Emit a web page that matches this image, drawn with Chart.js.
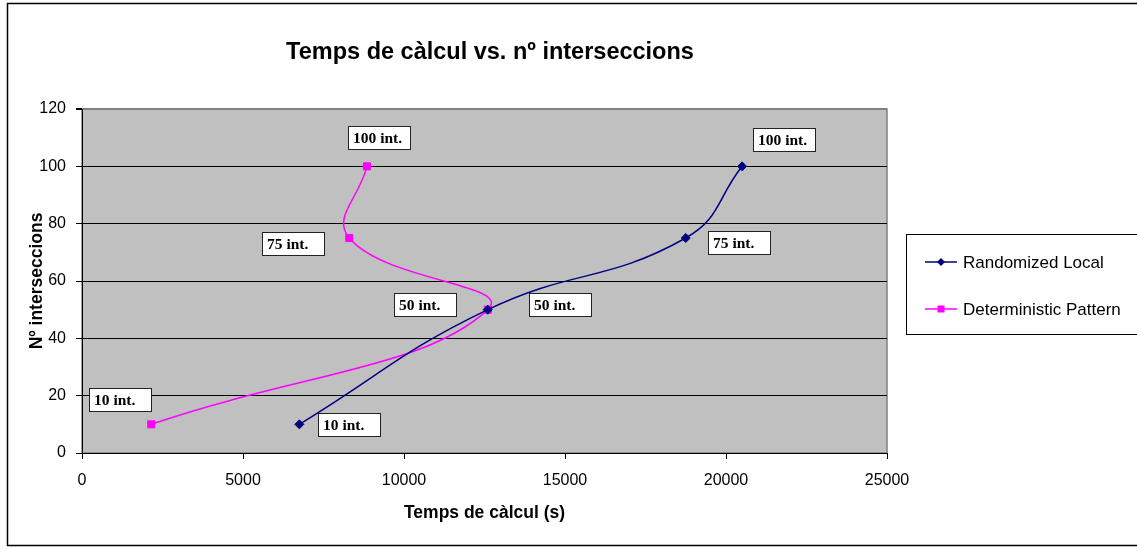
<!DOCTYPE html>
<html>
<head>
<meta charset="utf-8">
<script src="https://cdn.jsdelivr.net/npm/chart.js@4/dist/chart.umd.min.js"></script>
<style>
html,body{margin:0;padding:0;background:#fff;}
#wrap{width:1137px;height:549px;position:relative;}
</style>
</head>
<body>
<div id="wrap"><canvas id="c" width="1137" height="549"></canvas></div>
<script>
const chartTitle = 'Temps de càlcul vs. nº interseccions';
const xAxisTitle = 'Temps de càlcul (s)';
const yAxisTitle = 'Nº interseccions';
const intersections = [10, 50, 75, 100];
const randomizedTime = [6750, 12600, 18750, 20500];
const deterministicTime = [2150, 12600, 8300, 8850];
const pointLabels = ['10 int.', '50 int.', '75 int.', '100 int.'];
const seriesNames = ['Randomized Local', 'Deterministic Pattern'];

const SANS = '"Liberation Sans", Arial, sans-serif';
const SERIF = '"Liberation Serif", "Times New Roman", serif';

const toPoints = (xs) => xs.map((x, i) => ({x: x, y: intersections[i]}));

const frame = {
  id: 'frame',
  beforeDraw(chart) {
    const {ctx, chartArea: a} = chart;
    ctx.save();
    ctx.fillStyle = '#fff';
    ctx.fillRect(0, 0, chart.width, chart.height);
    ctx.fillStyle = '#C0C0C0';
    ctx.fillRect(a.left, a.top, a.right - a.left, a.bottom - a.top);
    ctx.strokeStyle = '#808080';
    ctx.lineWidth = 1.5;
    ctx.strokeRect(a.left, a.top, a.right - a.left, a.bottom - a.top);
    ctx.restore();
  },
  afterDraw(chart) {
    const {ctx, chartArea: a} = chart;
    ctx.save();
    // outer border
    ctx.strokeStyle = '#000';
    ctx.lineWidth = 1.5;
    ctx.beginPath();
    ctx.moveTo(1140, 3.5); ctx.lineTo(7.5, 3.5); ctx.lineTo(7.5, 545.5); ctx.lineTo(1140, 545.5);
    ctx.stroke();
    // title
    ctx.fillStyle = '#000';
    ctx.textAlign = 'center';
    ctx.textBaseline = 'alphabetic';
    ctx.font = 'bold 23.5px ' + SANS;
    ctx.fillText(chartTitle, 490, 59);
    ctx.font = 'bold 17.5px ' + SANS;
    ctx.fillText(xAxisTitle, (a.left + a.right) / 2, 518);
    ctx.save();
    ctx.translate(42, (a.top + a.bottom) / 2);
    ctx.rotate(-Math.PI / 2);
    ctx.fillText(yAxisTitle, 0, 0);
    ctx.restore();
    // legend
    ctx.fillStyle = '#fff';
    ctx.fillRect(906.5, 234.5, 240, 100);
    ctx.strokeStyle = '#000';
    ctx.lineWidth = 1;
    ctx.strokeRect(906.5, 234.5, 240, 100);
    const rows = [262, 309];
    chart.data.datasets.forEach((ds, i) => {
      const y = rows[i];
      ctx.strokeStyle = ds.borderColor;
      ctx.lineWidth = 1.5;
      ctx.beginPath(); ctx.moveTo(925, y); ctx.lineTo(957, y); ctx.stroke();
      ctx.fillStyle = ds.pointBackgroundColor;
      ctx.beginPath();
      if (ds.pointStyle === 'rect') {
        ctx.rect(941 - 3.5, y - 3.5, 7, 7);
      } else {
        ctx.moveTo(941, y - 4); ctx.lineTo(945, y); ctx.lineTo(941, y + 4); ctx.lineTo(937, y);
        ctx.closePath();
      }
      ctx.fill();
      ctx.fillStyle = '#000';
      ctx.textAlign = 'left';
      ctx.textBaseline = 'middle';
      ctx.font = '17px ' + SANS;
      ctx.fillText(ds.label, 963, y + 1);
    });
    ctx.restore();
  },
  afterDatasetsDraw(chart) {
    const {ctx} = chart;
    ctx.save();
    chart.data.datasets.forEach((ds, di) => {
      const meta = chart.getDatasetMeta(di);
      meta.data.forEach((pt, i) => {
        const off = ds.labelOffsets[i];
        const cx = pt.x + off[0], cy = pt.y + off[1];
        const w = 62, h = 23;
        const l = Math.round(cx - w / 2) + 0.5, t = Math.round(cy - h / 2) + 0.5;
        ctx.fillStyle = '#fff';
        ctx.fillRect(l, t, w, h);
        ctx.strokeStyle = '#222';
        ctx.lineWidth = 1;
        ctx.strokeRect(l, t, w, h);
        ctx.fillStyle = '#000';
        ctx.font = 'bold 15.5px ' + SERIF;
        ctx.textAlign = 'left';
        ctx.textBaseline = 'middle';
        ctx.fillText(pointLabels[i], l + 4.5, t + h / 2 + 1);
      });
    });
    ctx.restore();
  }
};

new Chart(document.getElementById('c'), {
  type: 'scatter',
  data: {
    datasets: [
      {
        label: seriesNames[0],
        data: toPoints(randomizedTime),
        showLine: true,
        tension: 0.45,
        borderColor: '#000080',
        backgroundColor: '#000080',
        pointBackgroundColor: '#000080',
        pointBorderColor: '#000080',
        borderWidth: 1.5,
        pointStyle: 'rectRot',
        pointRadius: 4.5,
        pointBorderWidth: 1,
        labelOffsets: [[50, 0], [72, -5], [53, 4], [42, -27]]
      },
      {
        label: seriesNames[1],
        data: toPoints(deterministicTime),
        showLine: true,
        tension: 0.45,
        borderColor: '#FF00FF',
        backgroundColor: '#FF00FF',
        pointBackgroundColor: '#FF00FF',
        pointBorderColor: '#FF00FF',
        borderWidth: 1.5,
        pointStyle: 'rect',
        pointRadius: 5,
        pointBorderWidth: 1,
        labelOffsets: [[-31, -25], [-63, -5], [-56, 5], [12, -29]]
      }
    ]
  },
  options: {
    responsive: false,
    animation: false,
    layout: {padding: {top: 109, right: 250, left: 0, bottom: 0}},
    plugins: {legend: {display: false}, title: {display: false}, tooltip: {enabled: false}},
    scales: {
      x: {
        type: 'linear', min: 0, max: 25000,
        afterFit: (s) => { s.height = 96; },
        ticks: {stepSize: 5000, color: '#000', font: {family: SANS, size: 16}, padding: 12, maxRotation: 0,
                callback: (v) => String(v)},
        grid: {display: true, drawOnChartArea: false, drawTicks: true, tickLength: 6, color: '#000'},
        border: {display: true, color: '#000', width: 1}
      },
      y: {
        type: 'linear', min: 0, max: 120,
        afterFit: (s) => { s.width = 82; },
        ticks: {stepSize: 20, color: '#000', font: {family: SANS, size: 16}, padding: 10,
                callback: (v) => String(v)},
        grid: {
          drawOnChartArea: true, drawTicks: true, tickLength: 6,
          color: (c) => (c.tick && c.tick.value === 120) ? '#808080' : '#000',
          tickColor: '#000',
          lineWidth: (c) => (c.tick && c.tick.value === 120) ? 2 : 1
        },
        border: {display: true, color: '#000', width: 1}
      }
    }
  },
  plugins: [frame]
});
</script>
</body>
</html>
